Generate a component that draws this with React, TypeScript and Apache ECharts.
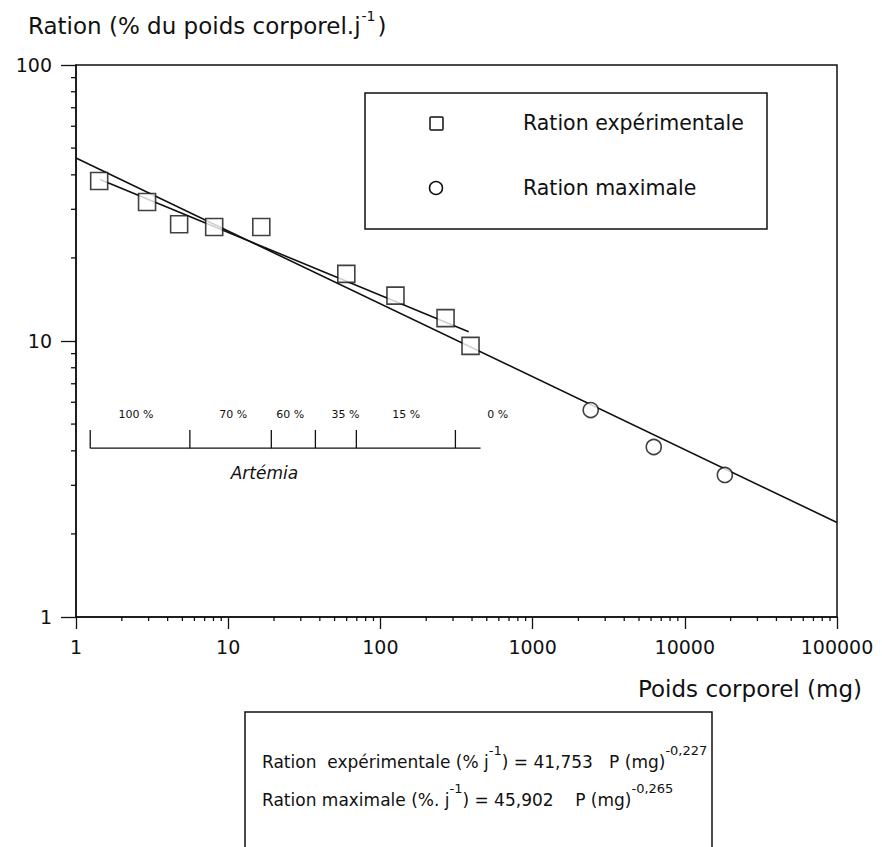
import React, { useEffect, useRef } from "react";
import * as echarts from "echarts";

// Experimental ration (squares)
const expWeights = [1.42, 2.93, 4.76, 8.09, 16.5, 59.7, 125.6, 268, 391];
const expRations = [38.0, 31.9, 26.5, 25.9, 25.9, 17.5, 14.6, 12.1, 9.6];
// Maximal ration (circles)
const maxWeights = [2409, 6252, 18330];
const maxRations = [5.62, 4.13, 3.27];
// Fitted lines (end points)
const expFitX = [1.44, 380];
const expFitY = [38.5, 10.8];
const maxFitX = [1, 100000];
const maxFitY = [46, 2.2];
// Axis ranges
const xRange = [1, 100000];
const yRange = [1, 100];
const minorMultipliers = [2, 3, 4, 5, 6, 7, 8, 9];
// Artemia scale annotation
const artemiaTicks = [1.24, 5.6, 19.2, 37.4, 69.5, 311];
const artemiaLineEnd = 455;
const artemiaLabels = ["100 %", "70 %", "60 %", "35 %", "15 %", "0 %"];
const artemiaLabelX = [2.48, 10.8, 25.6, 58.9, 148, 589];
const artemiaLevel = [4.09, 4.76, 5.4];
const artemiaTitleX = [17.3];
const artemiaTitleY = [3.33];
const artemiaTitleText = "Artémia";

const FONT = "DejaVu Sans";
const INK = "#111";

export default function App() {
  const ref = useRef<HTMLDivElement>(null);
  useEffect(() => {
    if (!ref.current) return;
    const chart = echarts.init(ref.current, undefined, { renderer: "svg" });

    const xMinors: number[] = [];
    for (let d = xRange[0]; d < xRange[1]; d *= 10) minorMultipliers.forEach((k) => xMinors.push(d * k));
    const yMinors: number[] = [];
    for (let d = yRange[0]; d < yRange[1]; d *= 10) minorMultipliers.forEach((k) => yMinors.push(d * k));

    const line = (x1: number, y1: number, x2: number, y2: number) => ({
      type: "line",
      shape: { x1, y1, x2, y2 },
      style: { stroke: INK, lineWidth: 1.3 },
    });

    const option: any = {
      animation: false,
      backgroundColor: "#fff",
      grid: {
        left: 76,
        right: 45,
        top: 65,
        bottom: 230,
        show: true,
        borderColor: INK,
        borderWidth: 1.5,
      },
      xAxis: {
        type: "log",
        logBase: 10,
        min: xRange[0],
        max: xRange[1],
        axisLine: { show: true, lineStyle: { color: INK, width: 1.5 } },
        axisTick: { show: true, length: 12, lineStyle: { color: INK, width: 1.3 } },
        splitLine: { show: false },
        axisLabel: {
          color: INK,
          fontFamily: FONT,
          fontSize: 19,
          margin: 20,
          formatter: (v: number) => String(Math.round(v)),
        },
      },
      yAxis: {
        type: "log",
        logBase: 10,
        min: yRange[0],
        max: yRange[1],
        axisLine: { show: true, lineStyle: { color: INK, width: 1.5 } },
        axisTick: { show: true, length: 15, lineStyle: { color: INK, width: 1.3 } },
        splitLine: { show: false },
        axisLabel: {
          color: INK,
          fontFamily: FONT,
          fontSize: 19,
          margin: 24,
          formatter: (v: number) => String(Math.round(v)),
        },
      },
      series: [
        {
          name: "minor-x",
          type: "custom",
          silent: true,
          data: xMinors.map((v) => [v, yRange[0]]),
          renderItem: (params: any, api: any) => {
            const p = api.coord([api.value(0), api.value(1)]);
            return line(p[0], p[1], p[0], p[1] + 4);
          },
        },
        {
          name: "minor-y",
          type: "custom",
          silent: true,
          data: yMinors.map((v) => [xRange[0], v]),
          renderItem: (params: any, api: any) => {
            const p = api.coord([api.value(0), api.value(1)]);
            return line(p[0] - 5, p[1], p[0], p[1]);
          },
        },
        {
          name: "Ration maximale (ajustement)",
          type: "line",
          symbol: "none",
          data: maxFitX.map((x, i) => [x, maxFitY[i]]),
          lineStyle: { color: INK, width: 1.6 },
          z: 3,
        },
        {
          name: "Ration expérimentale (ajustement)",
          type: "line",
          symbol: "none",
          data: expFitX.map((x, i) => [x, expFitY[i]]),
          lineStyle: { color: INK, width: 1.6 },
          z: 3,
        },
        {
          name: "Ration expérimentale",
          type: "scatter",
          symbol: "rect",
          symbolSize: 17,
          data: expWeights.map((x, i) => [x, expRations[i]]),
          itemStyle: { color: "#fff", borderColor: INK, borderWidth: 1.6 },
          z: 5,
        },
        {
          name: "Ration maximale",
          type: "scatter",
          symbol: "circle",
          symbolSize: 15,
          data: maxWeights.map((x, i) => [x, maxRations[i]]),
          itemStyle: { color: "#fff", borderColor: INK, borderWidth: 1.6 },
          z: 5,
        },
        {
          name: "Artemia-line",
          type: "line",
          symbol: "none",
          silent: true,
          data: [
            [artemiaTicks[0], artemiaLevel[0]],
            [artemiaLineEnd, artemiaLevel[0]],
          ],
          lineStyle: { color: INK, width: 1.3 },
        },
        {
          name: "Artemia-ticks",
          type: "custom",
          silent: true,
          data: artemiaTicks.map((x, i) => [x, artemiaLabelX[i], i]),
          renderItem: (params: any, api: any) => {
            const i = api.value(2);
            const b = api.coord([api.value(0), artemiaLevel[0]]);
            const t = api.coord([api.value(0), artemiaLevel[1]]);
            const l = api.coord([api.value(1), artemiaLevel[2]]);
            return {
              type: "group",
              children: [
                line(b[0], b[1], t[0], t[1]),
                {
                  type: "text",
                  x: l[0],
                  y: l[1],
                  style: {
                    text: artemiaLabels[i],
                    fill: INK,
                    font: `11px ${FONT}`,
                    align: "center",
                    verticalAlign: "middle",
                  },
                },
              ],
            };
          },
        },
        {
          name: "Artemia-title",
          type: "custom",
          silent: true,
          data: artemiaTitleX.map((x, i) => [x, artemiaTitleY[i]]),
          renderItem: (params: any, api: any) => {
            const p = api.coord([api.value(0), api.value(1)]);
            return {
              type: "text",
              x: p[0],
              y: p[1],
              style: {
                text: artemiaTitleText,
                fill: INK,
                font: `italic 17px ${FONT}`,
                align: "center",
                verticalAlign: "middle",
              },
            };
          },
        },
      ],
      graphic: [
        {
          type: "text",
          left: 28,
          top: 9,
          style: {
            text: "{a|Ration (% du poids corporel.j}{s|-1}{a|)}",
            rich: {
              a: { fontFamily: FONT, fontSize: 23, fill: INK, lineHeight: 28, verticalAlign: "bottom" },
              s: { fontFamily: FONT, fontSize: 14, fill: INK, lineHeight: 28, verticalAlign: "top", padding: [0, 2, 0, 1] },
            },
          },
        },
        {
          type: "text",
          right: 20,
          top: 677,
          style: { text: "Poids corporel (mg)", font: `23px ${FONT}`, fill: INK },
        },
        // legend box
        {
          type: "rect",
          shape: { x: 365, y: 93, width: 402, height: 136 },
          style: { fill: "#fff", stroke: INK, lineWidth: 1.5 },
          z: 10,
        },
        {
          type: "rect",
          shape: { x: 430, y: 117, width: 13, height: 13, r: 1 },
          style: { fill: "#fff", stroke: INK, lineWidth: 1.5 },
          z: 11,
        },
        {
          type: "circle",
          shape: { cx: 436, cy: 188, r: 6.5 },
          style: { fill: "#fff", stroke: INK, lineWidth: 1.5 },
          z: 11,
        },
        {
          type: "text",
          x: 523,
          y: 123,
          style: { text: "Ration expérimentale", font: `20.5px ${FONT}`, fill: INK, verticalAlign: "middle" },
          z: 11,
        },
        {
          type: "text",
          x: 523,
          y: 188,
          style: { text: "Ration maximale", font: `20.5px ${FONT}`, fill: INK, verticalAlign: "middle" },
          z: 11,
        },
        // equations box
        {
          type: "polyline",
          shape: { points: [[245, 850], [245, 712], [712, 712], [712, 850]] },
          style: { fill: "none", stroke: INK, lineWidth: 1.5 },
        },
        {
          type: "text",
          x: 262,
          y: 744,
          style: {
            text: "{a|Ration  expérimentale (% j}{s|-1}{a|) = 41,753   P (mg)}{s|-0,227}",
            rich: {
              a: { fontFamily: FONT, fontSize: 17, fill: INK, lineHeight: 26, verticalAlign: "bottom" },
              s: { fontFamily: FONT, fontSize: 13, fill: INK, lineHeight: 26, verticalAlign: "top" },
            },
          },
        },
        {
          type: "text",
          x: 262,
          y: 782,
          style: {
            text: "{a|Ration maximale (%. j}{s|-1}{a|) = 45,902    P (mg)}{s|-0,265}",
            rich: {
              a: { fontFamily: FONT, fontSize: 17, fill: INK, lineHeight: 26, verticalAlign: "bottom" },
              s: { fontFamily: FONT, fontSize: 13, fill: INK, lineHeight: 26, verticalAlign: "top" },
            },
          },
        },
      ],
    };
    chart.setOption(option);
    return () => chart.dispose();
  }, []);
  return (
    <div
      ref={ref}
      style={{ position: "fixed", left: 0, top: 0, width: 882, height: 847, background: "#fff" }}
    />
  );
}
